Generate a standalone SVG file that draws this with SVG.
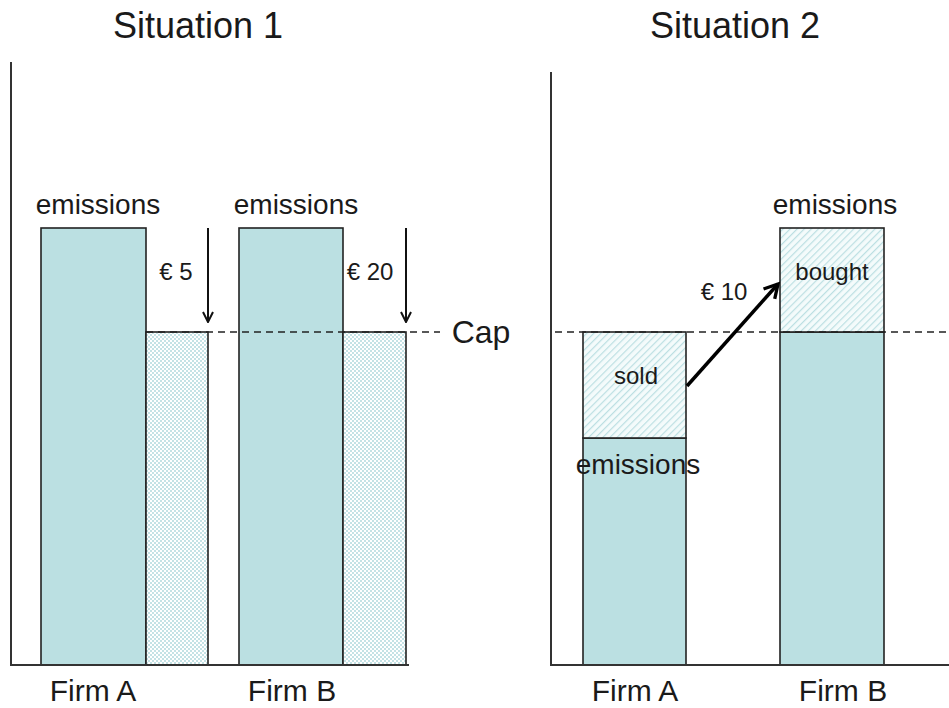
<svg xmlns="http://www.w3.org/2000/svg" width="949" height="708" viewBox="0 0 949 708">
<defs>
<style>
text{font-family:"Liberation Sans",Arial,sans-serif;fill:#1a1a1a}
.title{font-size:36px}
.lbl{font-size:28px}
.eur{font-size:24px}
.inner{font-size:24px}
.firm{font-size:30px}
.capt{font-size:32px}
.bar{fill:#bbe0e2;stroke:#222;stroke-width:1.6}
.chk{fill:url(#checker);stroke:#222;stroke-width:1.6}
.hat{fill:url(#diag);stroke:#222;stroke-width:1.6}
.axis{stroke:#333;stroke-width:2;fill:none}
.cap{stroke:#222;stroke-width:1.6;stroke-dasharray:7 5;fill:none}
.arr{stroke:#111;stroke-width:2;fill:none}
.arr2{stroke:#000;stroke-width:3.5;fill:none}
</style>
<pattern id="checker" width="4" height="4" patternUnits="userSpaceOnUse">
<rect width="4" height="4" fill="#ffffff"/>
<rect width="2" height="2" fill="#c4e2e5"/>
<rect x="2" y="2" width="2" height="2" fill="#c4e2e5"/>
</pattern>
<pattern id="diag" width="5" height="5" patternUnits="userSpaceOnUse" patternTransform="rotate(45)">
<rect width="5" height="5" fill="#f4fbfb"/>
<line x1="0" y1="0" x2="0" y2="5" stroke="#bcdfe2" stroke-width="2.4"/>
</pattern>
<marker id="vhead" viewBox="0 0 12 12" refX="11" refY="6" markerWidth="12" markerHeight="12" markerUnits="userSpaceOnUse" orient="auto">
<path d="M1,1 L11,6 L1,11" fill="none" stroke="#111" stroke-width="2"/>
</marker>
<marker id="vhead2" viewBox="0 0 12 12" refX="10" refY="6" markerWidth="20" markerHeight="20" markerUnits="userSpaceOnUse" orient="auto">
<path d="M2,1.5 L10,6 L2,10.5" fill="none" stroke="#000" stroke-width="2"/>
</marker>
</defs>

<text class="title" x="198" y="38" text-anchor="middle">Situation 1</text>
<text class="title" x="735" y="38" text-anchor="middle">Situation 2</text>

<g id="s1-firmA-emissions">
<rect class="bar" x="41" y="228" width="105" height="437"/>
<text class="lbl" x="98" y="214" text-anchor="middle">emissions</text>
</g>
<g id="s1-firmA-reduction">
<rect class="chk" x="146" y="332" width="62" height="333"/>
</g>
<g id="s1-firmB-emissions">
<rect class="bar" x="239" y="228" width="104" height="437"/>
<text class="lbl" x="296" y="214" text-anchor="middle">emissions</text>
</g>
<g id="s1-firmB-reduction">
<rect class="chk" x="343" y="332" width="63" height="333"/>
</g>

<g id="s2-firmA">
<rect class="bar" x="583" y="438" width="103" height="227"/>
<rect class="hat" x="583" y="332" width="103" height="106"/>
<text class="inner" x="636" y="384" text-anchor="middle">sold</text>
<text class="lbl" x="638" y="474" text-anchor="middle">emissions</text>
</g>
<g id="s2-firmB">
<rect class="bar" x="780" y="332" width="104" height="333"/>
<rect class="hat" x="780" y="228" width="104" height="104"/>
<text class="inner" x="832" y="280" text-anchor="middle">bought</text>
<text class="lbl" x="835" y="214" text-anchor="middle">emissions</text>
</g>

<g id="axes">
<path class="axis" d="M11,62 V665 H409"/>
<path class="axis" d="M551,72 V665 H949"/>
</g>

<g id="cap">
<path class="cap" d="M146,332 H440"/>
<path class="cap" d="M555,332 H949"/>
<text class="capt" x="481" y="343" text-anchor="middle">Cap</text>
</g>

<g id="connectors">
<path class="arr" d="M208,228 V322" marker-end="url(#vhead)"/>
<path class="arr" d="M406,228 V322" marker-end="url(#vhead)"/>
<path class="arr2" d="M687,386 L778,284" marker-end="url(#vhead2)"/>
</g>

<text class="eur" x="176" y="280" text-anchor="middle">€ 5</text>
<text class="eur" x="370" y="280" text-anchor="middle">€ 20</text>
<text class="eur" x="724" y="300" text-anchor="middle">€ 10</text>

<text class="firm" x="93" y="701" text-anchor="middle">Firm A</text>
<text class="firm" x="292" y="701" text-anchor="middle">Firm B</text>
<text class="firm" x="635" y="701" text-anchor="middle">Firm A</text>
<text class="firm" x="843" y="701" text-anchor="middle">Firm B</text>
</svg>
